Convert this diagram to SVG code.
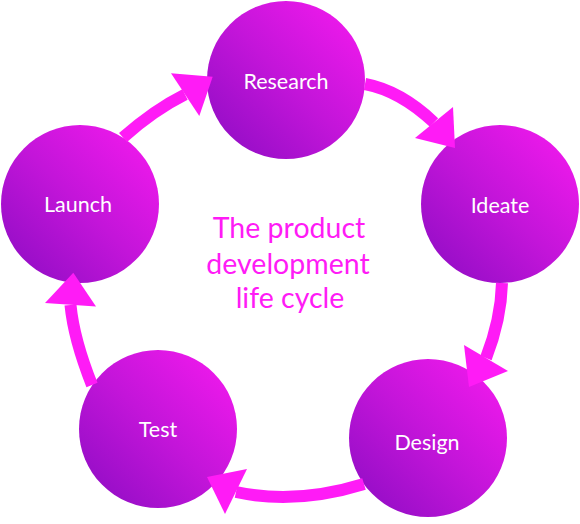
<svg xmlns="http://www.w3.org/2000/svg" width="580" height="524" viewBox="0 0 580 524">
  <defs>
    <linearGradient id="g" x1="0" y1="1" x2="1" y2="0">
      <stop offset="0" stop-color="#8a0cc2"/>
      <stop offset="0.5" stop-color="#c315d9"/>
      <stop offset="1" stop-color="#f81af0"/>
    </linearGradient>
  </defs>
  <style>
    .node circle { fill: url(#g); }
    .node text { fill: #ffffff; font-family: Lato, "Liberation Sans", sans-serif; font-size: 21.5px; text-anchor: middle; }
    .shaft { fill: none; stroke: #ff1bf6; stroke-width: 12; }
    .head { fill: #ff1bf6; }
    .title { fill: #ff1bf6; font-family: Lato, "Liberation Sans", sans-serif; font-size: 28.5px; text-anchor: middle; }
  </style>
  <rect width="580" height="524" fill="#ffffff"/>
  <g id="research" class="node">
    <circle cx="286" cy="80" r="79"/>
    <text x="286" y="88.5">Research</text>
  </g>
  <g id="ideate" class="node">
    <circle cx="500" cy="204" r="79"/>
    <text x="500" y="212.5">Ideate</text>
  </g>
  <g id="design" class="node">
    <circle cx="428" cy="438" r="79"/>
    <text x="427" y="450">Design</text>
  </g>
  <g id="test" class="node">
    <circle cx="158" cy="429" r="79"/>
    <text x="158" y="436.5">Test</text>
  </g>
  <g id="launch" class="node">
    <circle cx="80" cy="204" r="79"/>
    <text x="78" y="211.5">Launch</text>
  </g>
  <g id="connectors">
    <path class="shaft" d="M365,84 Q400.5,90.75 434,122.5"/>
    <polygon class="head" points="453,107 415,138 455,148"/>
    <path class="shaft" d="M502,283 Q501,319.5 486,358"/>
    <polygon class="head" points="464,345 508,371 469,387"/>
    <path class="shaft" d="M364,484 Q296,505 236,492"/>
    <polygon class="head" points="247,469 225,514 207,477"/>
    <path class="shaft" d="M92,385 Q73.75,339 70.5,305"/>
    <polygon class="head" points="45,303 96,306.5 73.3,272.7"/>
    <path class="shaft" d="M123,137.5 Q154,110 185,94.5"/>
    <polygon class="head" points="171,73.3 199.3,116 212.7,76.7"/>
  </g>
  <g id="title">
    <text class="title" x="289" y="238">The product</text>
    <text class="title" x="288" y="274">development</text>
    <text class="title" x="290" y="308">life cycle</text>
  </g>
</svg>
